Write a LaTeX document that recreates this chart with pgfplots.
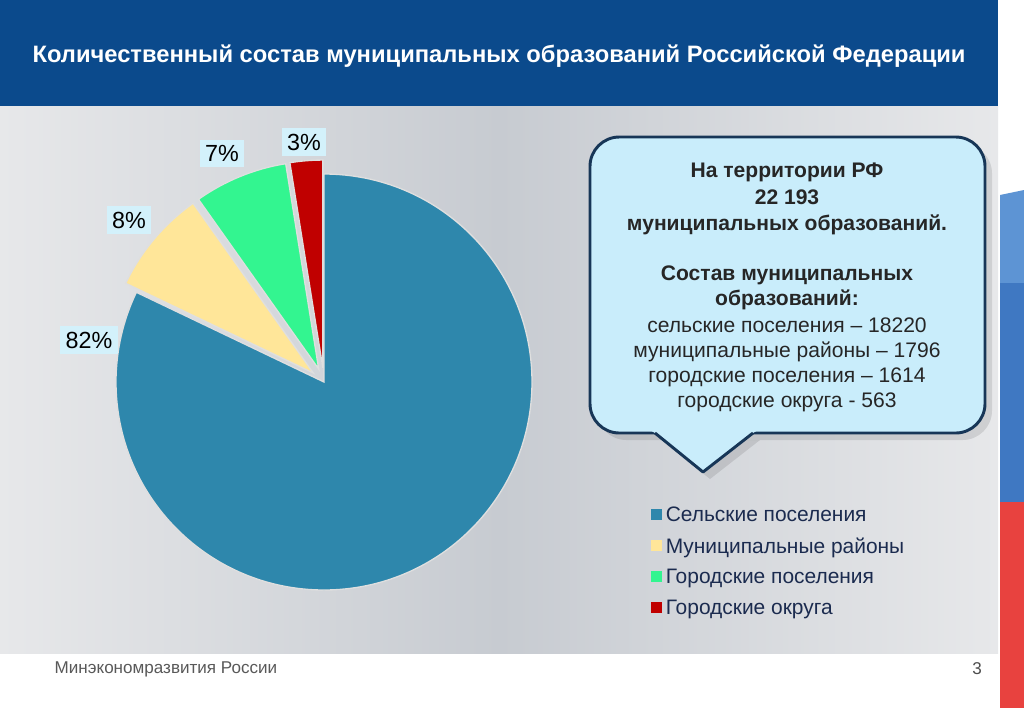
\documentclass[border=0pt]{standalone}
\usepackage{pgfplots}
\pgfplotsset{compat=1.18}
\usepackage{pgfplotstable}
\usepackage{fontspec}
\setmainfont{Liberation Sans}

\definecolor{banner}{HTML}{0B4A8C}
\definecolor{panelA}{HTML}{E7E8EA}
\definecolor{panelB}{HTML}{C7CBD1}
\definecolor{sliceBlue}{HTML}{2E87AC}
\definecolor{sliceYellow}{HTML}{FFE699}
\definecolor{sliceGreen}{HTML}{33F590}
\definecolor{sliceRed}{HTML}{C00000}
\definecolor{calloutFill}{HTML}{C9EDFB}
\definecolor{calloutLine}{HTML}{173657}
\definecolor{labelFill}{HTML}{D3F1FB}
\definecolor{legendText}{HTML}{1B2B4F}
\definecolor{boxText}{HTML}{262626}
\definecolor{flagLight}{HTML}{5D94D4}
\definecolor{flagBlue}{HTML}{3F78C2}
\definecolor{flagRed}{HTML}{E8423F}

% number of municipal units by type
\pgfplotstableread{
value
18220
1796
1614
563
}\pietable

\begin{document}
\begin{tikzpicture}[x=0.75pt,y=-0.75pt]
% page and slide background
\fill[white] (0,0) rectangle (1024,708);
\shade[left color=panelA, right color=panelA, middle color=panelB] (0,106) rectangle (998,653);
\fill[banner] (0,0) rectangle (998,106);
\fill[flagLight] (1000,195) -- (1024,190) -- (1024,283) -- (1000,283) -- cycle;
\fill[flagBlue] (1000,283) rectangle (1024,502);
\fill[flagRed] (1000,502) rectangle (1024,708);

\node[white, font=\bfseries\fontsize{17.8}{22}\selectfont, anchor=base] at (499,62)
  {Количественный состав муниципальных образований Российской Федерации};

% slice angles from the table
\pgfplotstablegetelem{0}{value}\of\pietable \let\vA\pgfplotsretval
\pgfplotstablegetelem{1}{value}\of\pietable \let\vB\pgfplotsretval
\pgfplotstablegetelem{2}{value}\of\pietable \let\vC\pgfplotsretval
\pgfplotstablegetelem{3}{value}\of\pietable \let\vD\pgfplotsretval
\edef\total{\fpeval{\vA+\vB+\vC+\vD}}
\edef\aA{\fpeval{round(90-360*\vA/\total,3)}}
\edef\aB{\fpeval{round(\aA-360*\vB/\total,3)}}
\edef\aC{\fpeval{round(\aB-360*\vC/\total,3)}}
\edef\aD{\fpeval{round(\aC-360*\vD/\total,3)}}
\edef\mB{\fpeval{(\aA+\aB)/2}}
\edef\mC{\fpeval{(\aB+\aC)/2}}
\edef\mD{\fpeval{(\aC+\aD)/2}}

\begin{axis}[
  at={(243pt,-286.5pt)}, anchor=center,
  scale only axis, width=312pt, height=312pt,
  xmin=-1, xmax=1, ymin=-1, ymax=1,
  hide axis, clip=false,
  legend cell align=left,
  legend style={at={(1.286,0.207)}, anchor=north west, draw=none, fill=none,
    font=\fontsize{15.7}{18}\selectfont, text=legendText, row sep=6.6pt,
    inner sep=0pt, nodes={inner xsep=3pt}},
]
\addlegendimage{legend image code/.code={\fill[sliceBlue] (0pt,-3pt) rectangle (7.5pt,4.5pt);}}
\addlegendentry{Сельские поселения}
\addlegendimage{legend image code/.code={\fill[sliceYellow] (0pt,-3pt) rectangle (7.5pt,4.5pt);}}
\addlegendentry{Муниципальные районы}
\addlegendimage{legend image code/.code={\fill[sliceGreen] (0pt,-3pt) rectangle (7.5pt,4.5pt);}}
\addlegendentry{Городские поселения}
\addlegendimage{legend image code/.code={\fill[sliceRed] (0pt,-3pt) rectangle (7.5pt,4.5pt);}}
\addlegendentry{Городские округа}

\filldraw[fill=sliceBlue, draw=gray!25, line width=1pt]
  (axis cs:0,0) -- +(90:156pt) arc[start angle=90, end angle=\aA, radius=156pt] -- cycle;
\filldraw[fill=sliceYellow, draw=gray!25, line width=1pt, shift={(\mB:10.5pt)}]
  (axis cs:0,0) -- +(\aA:156pt) arc[start angle=\aA, end angle=\aB, radius=156pt] -- cycle;
\filldraw[fill=sliceGreen, draw=gray!25, line width=1pt, shift={(\mC:10.5pt)}]
  (axis cs:0,0) -- +(\aB:156pt) arc[start angle=\aB, end angle=\aC, radius=156pt] -- cycle;
\filldraw[fill=sliceRed, draw=gray!25, line width=1pt, shift={(\mD:10.5pt)}]
  (axis cs:0,0) -- +(\aC:156pt) arc[start angle=\aC, end angle=\aD, radius=156pt] -- cycle;
\end{axis}

% percentage labels
\tikzset{pct/.style={fill=labelFill, inner xsep=4pt, inner ysep=4pt, font=\fontsize{17.5}{20}\selectfont}}
\node[pct] at (89,340) {82\%};
\node[pct] at (129,220) {8\%};
\node[pct] at (222,153) {7\%};
\node[pct] at (304,142) {3\%};

% callout
\fill[black, opacity=0.10, rounded corners=22pt] (597,144) rectangle (992,440);
\fill[black, opacity=0.10] (662,440) -- (710,479) -- (760,440) -- cycle;
\draw[calloutLine, line width=2.2pt, fill=calloutFill, rounded corners=22pt] (590,137) rectangle (985,433);
\fill[calloutFill] (650,430) -- (758,430) -- (753,433) -- (703,472) -- (655,433) -- cycle;
\draw[calloutLine, line width=2.2pt, line join=round] (655,433) -- (703,472) -- (753,433);

\begin{scope}[every node/.style={anchor=base, text=boxText}]
\node[font=\bfseries\fontsize{15.8}{18}\selectfont] at (787,177) {На территории РФ};
\node[font=\bfseries\fontsize{15.8}{18}\selectfont] at (787,204) {22 193};
\node[font=\bfseries\fontsize{15.8}{18}\selectfont] at (787,230) {муниципальных образований.};
\node[font=\bfseries\fontsize{15.8}{18}\selectfont] at (787,280) {Состав муниципальных};
\node[font=\bfseries\fontsize{15.8}{18}\selectfont] at (787,305) {образований:};
\node[font=\fontsize{15.8}{18}\selectfont] at (787,332) {сельские поселения – 18220};
\node[font=\fontsize{15.8}{18}\selectfont] at (787,357) {муниципальные районы – 1796};
\node[font=\fontsize{15.8}{18}\selectfont] at (787,382) {городские поселения – 1614};
\node[font=\fontsize{15.8}{18}\selectfont] at (787,407) {городские округа - 563};
\end{scope}

% footer
\node[anchor=base west, text=gray!70!black, font=\fontsize{12.8}{15}\selectfont] at (50,673) {Минэкономразвития России};
\node[anchor=base, text=gray!60!black, font=\fontsize{12.8}{15}\selectfont] at (977,674) {3};
\end{tikzpicture}
\end{document}
